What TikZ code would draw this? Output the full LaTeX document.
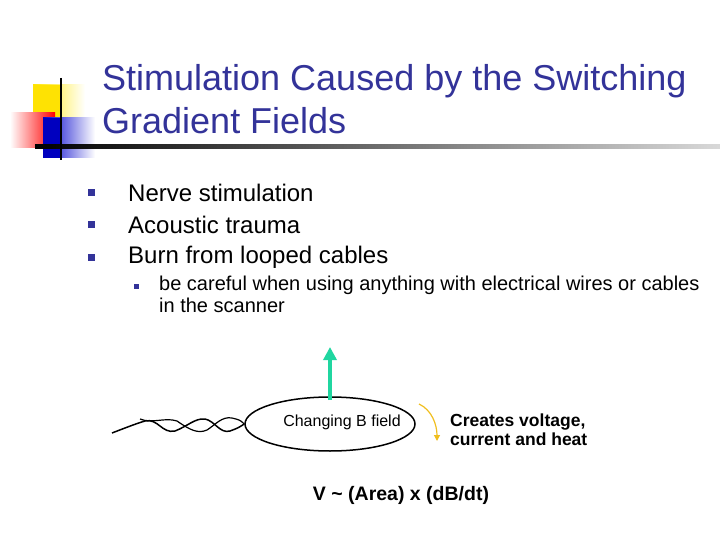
\documentclass[tikz,border=0pt]{standalone}
\usepackage{fontspec}
\setmainfont{Liberation Sans}
\usetikzlibrary{arrows.meta,shapes.geometric}
\definecolor{ttl}{RGB}{51,51,153}
\definecolor{teal}{RGB}{32,214,160}
\definecolor{gold}{RGB}{240,190,30}
\tikzset{bul/.style={fill=ttl,minimum size=7pt,inner sep=0pt},
txt/.style={anchor=west,inner sep=0pt,font=\fontsize{24}{28}\selectfont}}
\begin{document}
\begin{tikzpicture}[x=1pt,y=-1pt]
\useasboundingbox (0,0) rectangle (720,540);
% decoration
\shade[left color=yellow!80!orange,right color=white] (33,85) rectangle (85,135);
\fill[yellow!85!orange] (33,85) rectangle (62,135);
\shade[left color=white,right color=red] (10,113) rectangle (55,148);
\shade[left color=blue!80!black,right color=white] (43,118) rectangle (95,158);
\fill[blue!75!black] (43,118) rectangle (62,158);
\shade[left color=black,right color=gray!30] (35,145) rectangle (720,149);
\draw[line width=2pt] (61,78) -- (61,160);
% title
\node[anchor=west,inner sep=0pt,text=ttl,align=left,font=\fontsize{36}{43}\selectfont] (title) at (102,99) {Stimulation Caused by the Switching\\Gradient Fields};
% bullets
\node[bul] (b1) at (91,193) {}; \node[txt] (t1) at (128,193) {Nerve stimulation};
\node[bul] (b2) at (91,225) {}; \node[txt] (t2) at (128,225) {Acoustic trauma};
\node[bul] (b3) at (91,257) {}; \node[txt] (t3) at (128,257) {Burn from looped cables};
\node[bul,minimum size=5pt] (b4) at (136,286) {};
\node[anchor=north west,inner sep=0pt,align=left,font=\fontsize{20}{22}\selectfont] (t4) at (159,276) {be careful when using anything with electrical wires or cables\\in the scanner};
% loop
\node[draw,line width=1.5pt,ellipse,minimum width=170pt,minimum height=54pt,inner sep=0pt] (loop) at (330,424) {};
\node[inner sep=0pt,font=\fontsize{16}{20}\selectfont] (lbl) at (342,422) {Changing B field};
\coordinate (top) at (330,347);
\draw[teal,line width=3.5pt,-{Triangle[length=13pt,width=13pt]}] (330,400) -- (top);
% wire
\coordinate (w0) at (112,433);
\draw[line width=1.5pt] (w0) .. controls (125,428) and (135,424) .. (145,421)
 .. controls (158,418) and (162,434) .. (175,431) .. controls (188,426) and (195,418) .. (205,419)
 .. controls (215,421) and (220,434) .. (230,431) .. controls (238,428) .. (loop.west);
\draw[line width=1.2pt] (140,419) .. controls (152,424) and (165,417) .. (177,421) .. controls (190,430) and (198,434) .. (207,430)
 .. controls (215,425) and (222,416) .. (232,418) .. controls (240,420) .. (loop.west);
% orange arrow
\coordinate (o1) at (419,404);
\coordinate (o2) at (437,441);
\draw[gold,line width=1.2pt,-{Triangle[length=6pt,width=6pt]}] (o1) .. controls (432,410) and (437,425) .. (o2);
\node[anchor=north west,inner sep=0pt,align=left,font=\bfseries\fontsize{17.5}{19}\selectfont] (cv) at (450,414) {Creates voltage,\\current and heat};
\node[inner sep=0pt,font=\bfseries\fontsize{19.5}{22}\selectfont] (eq) at (401,495) {V \textasciitilde{} (Area) x (dB/dt)};
\end{tikzpicture}
\end{document}
